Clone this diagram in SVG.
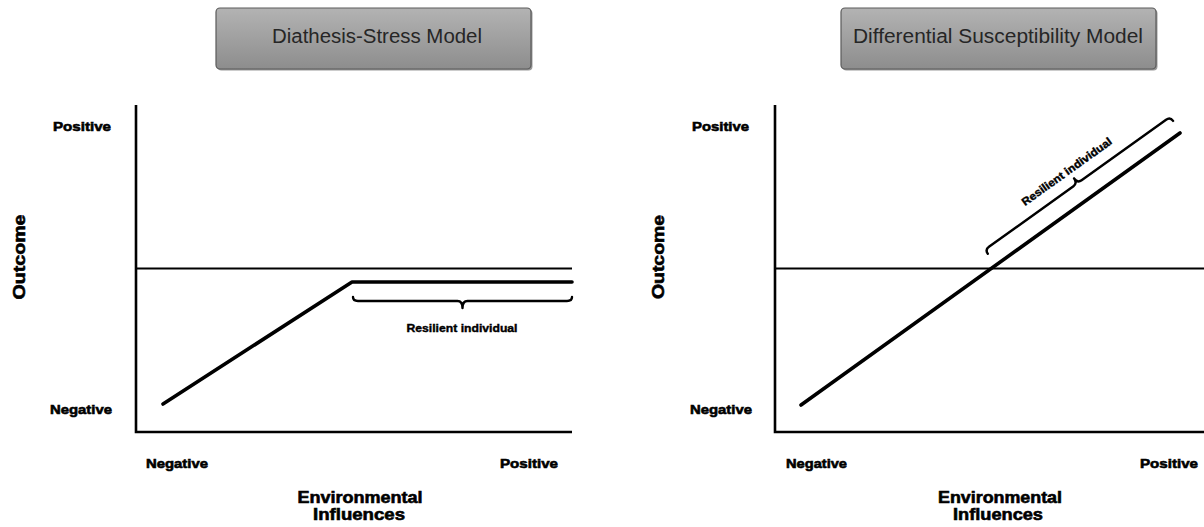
<svg xmlns="http://www.w3.org/2000/svg" width="1204" height="527" viewBox="0 0 1204 527">
  <defs>
    <linearGradient id="boxFill" x1="0" y1="0" x2="0" y2="1">
      <stop offset="0" stop-color="#b3b3b3"/>
      <stop offset="1" stop-color="#8d8d8d"/>
    </linearGradient>
    <style>
      .title-box { fill: url(#boxFill); stroke: #5a5a5a; stroke-width: 1.2; }
      .title-shadow { fill: #9a9a9a; }
      .title { font-family: "Liberation Sans", Arial, sans-serif; font-size: 20px; fill: #262626; text-anchor: middle; }
      .lbl { font-family: "Liberation Sans", Arial, sans-serif; font-weight: bold; font-size: 13px; fill: #000; stroke: #000; stroke-width: 0.6; }
      .axis-title { font-family: "Liberation Sans", Arial, sans-serif; font-weight: bold; font-size: 16px; fill: #000; stroke: #000; stroke-width: 0.6; text-anchor: middle; }
      .note { font-family: "Liberation Sans", Arial, sans-serif; font-weight: bold; font-size: 11px; fill: #000; stroke: #000; stroke-width: 0.4; text-anchor: middle; }
      .axis { stroke: #000; stroke-width: 2.6; fill: none; }
      .ref { stroke: #000; stroke-width: 2; fill: none; }
      .trend { stroke: #000; stroke-width: 3.6; fill: none; stroke-linecap: round; stroke-linejoin: round; }
      .brace { stroke: #000; stroke-width: 2.4; fill: none; stroke-linecap: round; stroke-linejoin: round; }
    </style>
  </defs>

  <rect width="1204" height="527" fill="#fff"/>

  <!-- Left panel: diathesis-stress -->
  <g id="title-diathesis">
    <rect class="title-shadow" x="217.5" y="9.5" width="315" height="61" rx="4"/>
    <rect class="title-box" x="216" y="8" width="315" height="61" rx="4"/>
    <text class="title" x="377" y="43" textLength="210" lengthAdjust="spacingAndGlyphs">Diathesis-Stress Model</text>
  </g>

  <g id="axes-left">
    <polyline class="axis" points="136,105 136,432 572,432"/>
    <line class="ref" x1="136" y1="268.5" x2="572" y2="268.5"/>
  </g>

  <g id="labels-left">
    <text class="lbl" x="53" y="131" textLength="58" lengthAdjust="spacingAndGlyphs">Positive</text>
    <text class="lbl" x="50" y="414" textLength="62" lengthAdjust="spacingAndGlyphs">Negative</text>
    <text class="axis-title" transform="translate(25,257) rotate(-90)" font-size="15" textLength="85" lengthAdjust="spacingAndGlyphs">Outcome</text>
    <text class="lbl" x="146" y="468" textLength="62" lengthAdjust="spacingAndGlyphs">Negative</text>
    <text class="lbl" x="500" y="468" textLength="58" lengthAdjust="spacingAndGlyphs">Positive</text>
    <text class="axis-title" x="360" y="503" textLength="125" lengthAdjust="spacingAndGlyphs">Environmental</text>
    <text class="axis-title" x="359" y="520" textLength="92" lengthAdjust="spacingAndGlyphs">Influences</text>
  </g>

  <g id="connectors-left">
    <polyline class="trend" points="163,404 352,282 572,282"/>
  </g>

  <g id="resilient-left">
    <path class="brace" transform="translate(462.5,282)" d="M -109.5,15 Q -109.5,19 -104.5,19 L -5,19 Q 0,19 0,26 Q 0,19 5,19 L 104.5,19 Q 109.5,19 109.5,15"/>
    <text class="note" x="462" y="332" textLength="111" lengthAdjust="spacingAndGlyphs">Resilient individual</text>
  </g>

  <!-- Right panel: differential susceptibility -->
  <g id="title-differential">
    <rect class="title-shadow" x="842.5" y="9.5" width="315" height="61" rx="4"/>
    <rect class="title-box" x="841" y="8" width="315" height="61" rx="4"/>
    <text class="title" x="998" y="43" textLength="290" lengthAdjust="spacingAndGlyphs">Differential Susceptibility Model</text>
  </g>

  <g id="axes-right">
    <polyline class="axis" points="775,105 775,432 1204,432"/>
    <line class="ref" x1="775" y1="268.5" x2="1204" y2="268.5"/>
  </g>

  <g id="labels-right">
    <text class="lbl" x="692" y="131" textLength="57" lengthAdjust="spacingAndGlyphs">Positive</text>
    <text class="lbl" x="690" y="414" textLength="62" lengthAdjust="spacingAndGlyphs">Negative</text>
    <text class="axis-title" transform="translate(664,257) rotate(-90)" font-size="15" textLength="84" lengthAdjust="spacingAndGlyphs">Outcome</text>
    <text class="lbl" x="786" y="468" textLength="61" lengthAdjust="spacingAndGlyphs">Negative</text>
    <text class="lbl" x="1140" y="468" textLength="58" lengthAdjust="spacingAndGlyphs">Positive</text>
    <text class="axis-title" x="1000" y="503" textLength="124" lengthAdjust="spacingAndGlyphs">Environmental</text>
    <text class="axis-title" x="998" y="520" textLength="90" lengthAdjust="spacingAndGlyphs">Influences</text>
  </g>

  <g id="connectors-right">
    <line class="trend" x1="801" y1="405" x2="1180" y2="133"/>
  </g>

  <g id="resilient-right" transform="translate(1088.6,198.7) rotate(-35.66)">
    <path class="brace" transform="scale(1,-1)" d="M -114,14 Q -114,19 -109,19 L -5,19 Q 0,19 0,25 Q 0,19 5,19 L 109,19 Q 114,19 114,14"/>
    <text class="note" x="-2" y="-31" textLength="108" lengthAdjust="spacingAndGlyphs">Resilient individual</text>
  </g>
</svg>
